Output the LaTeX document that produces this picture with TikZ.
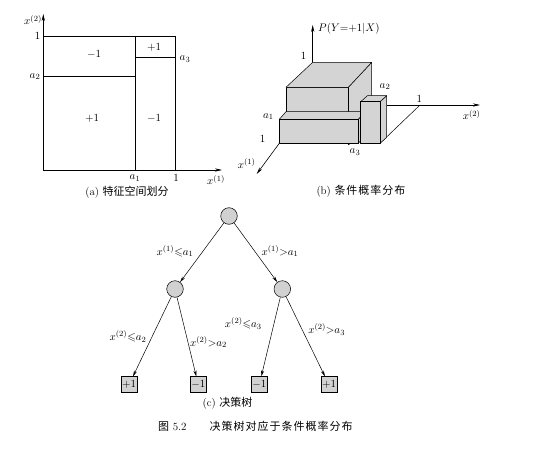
\documentclass[tikz,border=0pt]{standalone}
\usepackage{amssymb}
\usepackage{fontspec}
\newfontfamily\cjk{Noto Sans CJK SC}
\newfontfamily\cjksp[LetterSpace=9]{Noto Sans CJK SC}
\usetikzlibrary{arrows.meta}
\definecolor{boxgray}{gray}{0.83}
\definecolor{nodegray}{gray}{0.82}
\begin{document}
\begin{tikzpicture}[x=1pt,y=-1pt,
  ax/.style={line width=0.6pt,-{Stealth[length=7pt,width=3.2pt]}},
  ln/.style={line width=0.6pt},
  lab/.style={font=\fontsize{11}{13}\selectfont, inner sep=0pt},
  captxt/.style={font=\fontsize{11}{13}\selectfont, inner sep=0pt},
  face/.style={fill=boxgray, draw=black, line width=0.5pt, line join=round},
  inode/.style={circle, draw, fill=nodegray, minimum size=16.6pt, inner sep=0pt, line width=0.5pt},
  leaf/.style={rectangle, draw, fill=nodegray, minimum width=15.5pt, minimum height=16pt, inner sep=0pt, font=\fontsize{11}{13}\selectfont, line width=0.5pt},
  edge/.style={line width=0.5pt, -{Stealth[length=6pt,width=3pt]}}
]
\fill[white] (0,0) rectangle (553,465);
\useasboundingbox (0,0) rectangle (553,465);

% ---------- (a) feature space partition ----------
\coordinate (aO) at (43.3,170);
\coordinate (aX) at (222,170);
\coordinate (aY) at (43.3,14);
\draw[ax] (aO) -- (aX);
\draw[ax] (aO) -- (aY);
\draw[ln] (43.3,36) -- (175.7,36) -- (175.7,170);
\draw[ln] (135,36) -- (135,170);
\draw[ln] (43.3,76.7) -- (135,76.7);
\draw[ln] (135,57) -- (175.7,57);
\node[lab] (a1y) at (37.5,36) {$1$};
\node[lab] (a2y) at (35,76.5) {$a_2$};
\node[lab] (ax2) at (33,20) {$x^{(2)}$};
\node[lab] (am1) at (94,54) {$-1$};
\node[lab] (ap1) at (154,47) {$+1$};
\node[lab] (aa3) at (185,59) {$a_3$};
\node[lab] (ap2) at (92,118) {$+1$};
\node[lab] (am2) at (154,118) {$-1$};
\node[lab] (aa1) at (135,178) {$a_1$};
\node[lab] (a1x) at (176,178) {$1$};
\node[lab] (ax1) at (216,180) {$x^{(1)}$};
\node[captxt] (capa) at (127,192.5) {(a) {\cjk 特征空间划分}};

% ---------- (b) conditional probability distribution ----------
\coordinate (bV0) at (312.7,62.3);
\coordinate (bV1) at (312.7,25);
\draw[ax] (bV0) -- (bV1);
\coordinate (bX20) at (386.7,105);
\coordinate (bX21) at (480,105);
\draw[ax] (bX20) -- (bX21);
\draw[ln,line width=0.5pt] (420,105) -- (380,143.3);
\coordinate (bX10) at (279.3,143.3);
\coordinate (bX11) at (256.7,174);
\draw[ax] (bX10) -- (bX11);
% big box
\draw[face] (348.3,87.3) -- (371.7,62.3) -- (371.7,125) -- (348.3,145) -- cycle;
\draw[face] (286,87.3) -- (348.3,87.3) -- (348.3,125) -- (286,125) -- cycle;
\draw[face] (312.7,62.3) -- (371.7,62.3) -- (348.3,87.3) -- (286,87.3) -- cycle;
% slab
\draw[face] (358.3,119.3) -- (365,111.7) -- (365,135.7) -- (358.3,143.3) -- cycle;
\draw[face] (279.3,119.3) -- (358.3,119.3) -- (365,111.7) -- (286,111.7) -- cycle;
\draw[face] (279.3,119.3) rectangle (358.3,143.3);
% thin box
\draw[face] (380,101.7) -- (386.7,95.7) -- (386.7,137.3) -- (380,143.3) -- cycle;
\draw[face] (360.7,101.7) -- (380,101.7) -- (386.7,95.7) -- (367.4,95.7) -- cycle;
\draw[face] (360.7,101.7) rectangle (380,143.3);
\node[lab, anchor=west] (bP) at (318,29) {$P(Y{=}{+}1|X)$};
\node[lab] (b1v) at (303.5,56) {$1$};
\node[lab] (ba2) at (385,86.7) {$a_2$};
\node[lab] (b1x2) at (419.3,99) {$1$};
\node[lab] (bx2) at (471.7,115) {$x^{(2)}$};
\node[lab] (ba1) at (268.3,116.7) {$a_1$};
\node[lab] (b1x1) at (262.7,139.3) {$1$};
\node[lab] (bx1) at (246.7,163.3) {$x^{(1)}$};
\node[lab] (ba3) at (355,152) {$a_3$};
\node[captxt] (capb) at (361,191.5) {(b) {\cjksp 条件概率分布}};

% ---------- (c) decision tree ----------
\node[inode] (r) at (229,216) {};
\node[inode] (l) at (175,289) {};
\node[inode] (rr) at (282.3,289) {};
\node[leaf] (l1) at (129,384.7) {$+1$};
\node[leaf] (l2) at (198.3,384.7) {$-1$};
\node[leaf] (l3) at (259.3,384.7) {$-1$};
\node[leaf] (l4) at (329,384.7) {$+1$};
\draw[edge] (r) -- (l);
\draw[edge] (r) -- (rr);
\draw[edge] (l) -- (l1);
\draw[edge] (l) -- (l2);
\draw[edge] (rr) -- (l3);
\draw[edge] (rr) -- (l4);
\node[lab] (e1) at (175,251) {$x^{(1)}{\leqslant}a_1$};
\node[lab] (e2) at (280,251) {$x^{(1)}{>}a_1$};
\node[lab] (e3) at (128,336.5) {$x^{(2)}{\leqslant}a_2$};
\node[lab] (e4) at (208.5,342) {$x^{(2)}{>}a_2$};
\node[lab] (e5) at (243.3,323.3) {$x^{(2)}{\leqslant}a_3$};
\node[lab] (e6) at (326.7,329.3) {$x^{(2)}{>}a_3$};
\node[captxt] (capc) at (227.5,403.5) {(c) {\cjk 决策树}};
\node[captxt, anchor=west] (fig) at (158,426) {{\cjk 图} 5.2\hspace{2.1em}{\cjksp 决策树对应于条件概率分布}};
\end{tikzpicture}
\end{document}
